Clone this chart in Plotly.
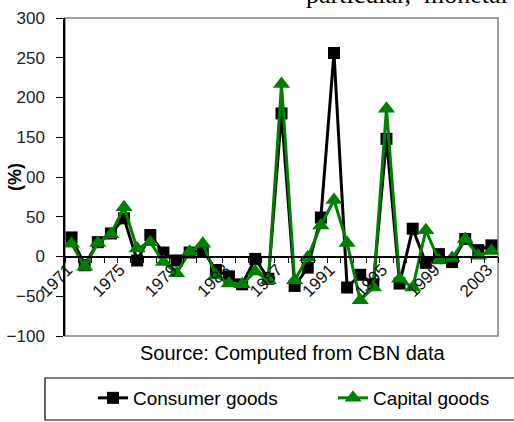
import plotly.graph_objects as go

years = list(range(1971, 2004))
consumer_goods = [24, -11, 18, 29, 48, -5, 27, 5, -5, 5,
                  8, -17, -25, -35, -3, -28, 180, -37, -14, 49,
                  256, -39, -23, -35, 148, -34, 35, -8, 3, -7,
                  22, 8, 14]
capital_goods = [16, -13, 17, 28, 62, 10, 18, -7, -21, 6,
                 16, -24, -34, -35, -19, -30, 217, -30, -1, 39,
                 71, 17, -55, -39, 186, -28, -39, 33, -5, -2,
                 22, 1, 7]
x_tick_labels = [1971, 1975, 1979, 1983, 1987, 1991, 1995, 1999, 2003]
y_ticks = [-100, -50, 0, 50, 100, 150, 200, 250, 300]

W, H = 514, 422
L, R, T, B = 65, 16, 18, 86
pw, ph = W - L - R, H - T - B

def px_x(p):
    return (p - L) / pw

def px_y(p):
    return (H - B - p) / ph

font_family = "Arial, Liberation Sans, sans-serif"

fig = go.Figure()
fig.add_trace(go.Scatter(
    x=years, y=consumer_goods, name="Consumer goods", mode="lines+markers",
    line=dict(color="black", width=3),
    marker=dict(symbol="square", size=12, color="black"),
    legend="legend", showlegend=True,
))
fig.add_trace(go.Scatter(
    x=years, y=capital_goods, name="Capital goods", mode="lines+markers",
    line=dict(color="#008000", width=3),
    marker=dict(symbol="triangle-up", size=15, color="#008000"),
    legend="legend2", showlegend=True,
))

fig.update_layout(
    width=W, height=H, showlegend=True,
    margin=dict(l=L, r=R, t=T, b=B, autoexpand=False),
    paper_bgcolor="white", plot_bgcolor="white",
    font=dict(family=font_family, color="black"),
    xaxis=dict(
        range=[1970.5, 2003.5], anchor="free", position=0.25,
        showline=True, linecolor="black", linewidth=1.5,
        tickmode="array", tickvals=x_tick_labels,
        ticktext=[str(v) for v in x_tick_labels],
        ticks="", tickangle=-45, tickfont=dict(size=17, color="#111"),
        ticklabelstandoff=-4, ticklabelshift=-4,
        showgrid=False, zeroline=False,
        minor=dict(tickmode="array",
                   tickvals=[y - 0.5 for y in years] + [years[-1] + 0.5],
                   ticks="outside", ticklen=6, tickwidth=1.2,
                   tickcolor="black", showgrid=False),
    ),
    yaxis=dict(
        range=[-100, 300], tickmode="array", tickvals=y_ticks,
        ticks="outside", ticklen=7, tickwidth=1.2, tickcolor="black",
        showline=True, linecolor="black", linewidth=1.5,
        showgrid=False, zeroline=False,
        tickfont=dict(size=17, color="#222"), ticklabelstandoff=8,
    ),
    legend=dict(
        orientation="h", x=px_x(93), xanchor="left",
        y=px_y(398), yanchor="middle",
        font=dict(size=19, color="black", family=font_family),
        bgcolor="rgba(0,0,0,0)", borderwidth=0,
    ),
    legend2=dict(
        orientation="h", x=px_x(333), xanchor="left",
        y=px_y(398), yanchor="middle",
        font=dict(size=19, color="black", family=font_family),
        bgcolor="rgba(0,0,0,0)", borderwidth=0,
    ),
    shapes=[
        dict(type="rect", xref="paper", yref="paper", x0=0, x1=1, y0=0, y1=1,
             line=dict(color="#808080", width=1.5), layer="below"),
        dict(type="rect", xref="paper", yref="paper",
             x0=px_x(45), x1=px_x(522), y0=px_y(420), y1=px_y(378),
             line=dict(color="black", width=1.2), fillcolor="rgba(0,0,0,0)"),
    ],
    annotations=[
        dict(text="(%)", xref="paper", yref="paper", x=px_x(15), y=0.5,
             textangle=-90, showarrow=False, xanchor="center", yanchor="middle",
             font=dict(size=18, color="black", family=font_family, weight="bold"),
             bgcolor="white"),
        dict(text="Source: Computed from CBN data", xref="paper", yref="paper",
             x=px_x(292), y=px_y(353), xanchor="center", yanchor="middle",
             showarrow=False, font=dict(size=20, color="black", family=font_family)),
        dict(text="particular,\u2002monetal", xref="paper", yref="paper",
             x=px_x(510), y=px_y(11), xanchor="right", yanchor="bottom",
             showarrow=False,
             font=dict(size=26, color="black",
                       family="Times New Roman, Liberation Serif, serif")),
    ],
)

fig.write_html("out.html",
               config={"displayModeBar": False},
               post_script="document.body.style.margin='0';"
                           "document.body.style.overflow='hidden';")
